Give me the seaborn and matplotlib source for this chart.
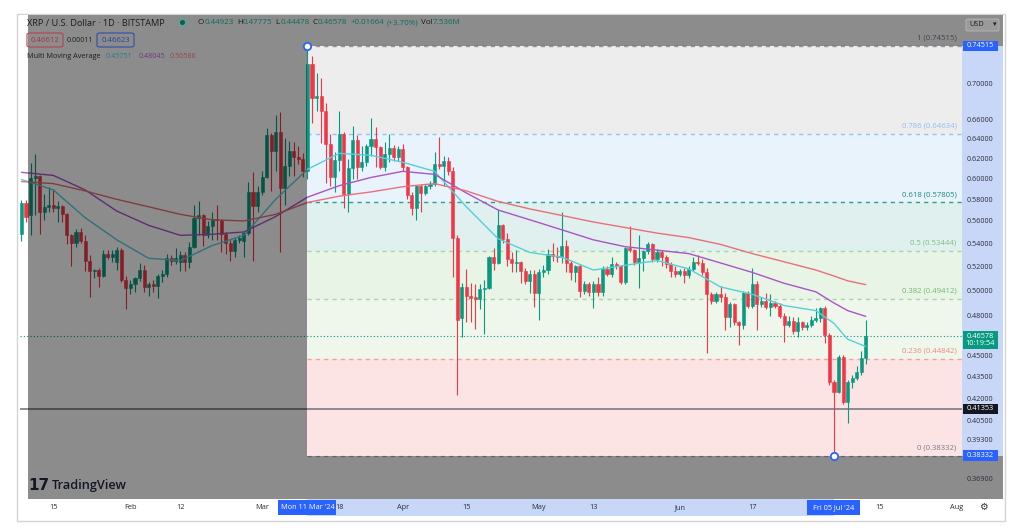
import matplotlib
matplotlib.use("Agg")
import numpy as np
import pandas as pd
import matplotlib.pyplot as plt
import matplotlib.dates as mdates
from matplotlib.patches import Rectangle, Ellipse, FancyBboxPatch
from matplotlib.ticker import NullLocator
import seaborn as sns

sns.set_theme(style="white")
plt.rcParams['font.family'] = ['Open Sans', 'DejaVu Sans']

# ---------------- data ----------------
start_date = "2024-01-08"
opens = [0.549, 0.578, 0.566, 0.601, 0.603, 0.569, 0.574, 0.576, 0.573, 0.575,
         0.567, 0.548, 0.541, 0.551, 0.543, 0.526, 0.517, 0.518, 0.513, 0.532,
         0.529, 0.525, 0.535, 0.510, 0.503, 0.506, 0.511, 0.518, 0.504, 0.506,
         0.505, 0.513, 0.515, 0.528, 0.526, 0.525, 0.531, 0.525, 0.538, 0.564,
         0.566, 0.548, 0.556, 0.563, 0.562, 0.549, 0.541, 0.534, 0.544, 0.543,
         0.550, 0.588, 0.575, 0.588, 0.602, 0.645, 0.628, 0.648, 0.592, 0.613,
         0.628, 0.622, 0.620, 0.608, 0.724, 0.685, 0.687, 0.670, 0.636, 0.602,
         0.619, 0.646, 0.586, 0.611, 0.640, 0.612, 0.617, 0.633, 0.641, 0.632,
         0.612, 0.625, 0.631, 0.622, 0.630, 0.612, 0.585, 0.573, 0.594, 0.587,
         0.594, 0.596, 0.615, 0.613, 0.618, 0.608, 0.546, 0.479, 0.504, 0.497,
         0.496, 0.494, 0.502, 0.503, 0.529, 0.524, 0.557, 0.545, 0.527, 0.524,
         0.525, 0.517, 0.509, 0.515, 0.499, 0.516, 0.518, 0.532, 0.530, 0.529,
         0.539, 0.524, 0.516, 0.521, 0.501, 0.506, 0.500, 0.506, 0.500, 0.519,
         0.515, 0.523, 0.521, 0.508, 0.537, 0.535, 0.525, 0.528, 0.534, 0.540,
         0.527, 0.533, 0.529, 0.523, 0.517, 0.515, 0.517, 0.514, 0.519, 0.525,
         0.524, 0.516, 0.498, 0.493, 0.498, 0.496, 0.480, 0.490, 0.476, 0.474,
         0.499, 0.489, 0.506, 0.490, 0.493, 0.488, 0.491, 0.489, 0.481, 0.474,
         0.477, 0.469, 0.476, 0.472, 0.474, 0.478, 0.479, 0.487, 0.466, 0.432,
         0.425, 0.450, 0.418, 0.432, 0.435, 0.439, 0.44923]
highs = [0.580, 0.580, 0.616, 0.625, 0.604, 0.586, 0.593, 0.591, 0.579, 0.576,
         0.568, 0.549, 0.554, 0.555, 0.548, 0.531, 0.519, 0.520, 0.535, 0.535,
         0.535, 0.538, 0.537, 0.513, 0.510, 0.512, 0.524, 0.522, 0.508, 0.510,
         0.515, 0.518, 0.532, 0.531, 0.537, 0.534, 0.533, 0.542, 0.576, 0.579,
         0.567, 0.561, 0.569, 0.576, 0.563, 0.551, 0.544, 0.546, 0.548, 0.551,
         0.598, 0.607, 0.594, 0.608, 0.652, 0.647, 0.666, 0.669, 0.642, 0.639,
         0.638, 0.633, 0.626, 0.74515, 0.733, 0.713, 0.707, 0.679, 0.646, 0.627,
         0.670, 0.648, 0.620, 0.654, 0.645, 0.633, 0.636, 0.663, 0.653, 0.634,
         0.638, 0.646, 0.635, 0.633, 0.636, 0.613, 0.588, 0.595, 0.596, 0.596,
         0.599, 0.627, 0.643, 0.623, 0.622, 0.612, 0.548, 0.507, 0.519, 0.507,
         0.506, 0.506, 0.510, 0.530, 0.537, 0.571, 0.558, 0.550, 0.533, 0.535,
         0.526, 0.520, 0.518, 0.518, 0.519, 0.522, 0.536, 0.541, 0.538, 0.569,
         0.544, 0.526, 0.522, 0.523, 0.509, 0.508, 0.509, 0.512, 0.521, 0.521,
         0.529, 0.525, 0.522, 0.538, 0.556, 0.536, 0.548, 0.535, 0.542, 0.541,
         0.536, 0.535, 0.531, 0.525, 0.521, 0.519, 0.520, 0.521, 0.529, 0.531,
         0.527, 0.520, 0.500, 0.500, 0.505, 0.499, 0.492, 0.491, 0.477, 0.501,
         0.501, 0.520, 0.509, 0.496, 0.499, 0.498, 0.493, 0.491, 0.483, 0.481,
         0.480, 0.480, 0.477, 0.476, 0.481, 0.487, 0.488, 0.489, 0.468, 0.433,
         0.451, 0.451, 0.433, 0.437, 0.443, 0.454, 0.47775]
lows = [0.543, 0.560, 0.548, 0.566, 0.549, 0.562, 0.569, 0.569, 0.560, 0.560,
        0.540, 0.521, 0.538, 0.541, 0.517, 0.496, 0.511, 0.504, 0.512, 0.527,
        0.525, 0.518, 0.508, 0.486, 0.498, 0.500, 0.509, 0.500, 0.497, 0.500,
        0.495, 0.508, 0.512, 0.522, 0.523, 0.517, 0.517, 0.520, 0.537, 0.548,
        0.539, 0.546, 0.544, 0.544, 0.533, 0.532, 0.526, 0.529, 0.541, 0.529,
        0.548, 0.526, 0.569, 0.585, 0.601, 0.589, 0.608, 0.533, 0.576, 0.603,
        0.603, 0.615, 0.602, 0.600, 0.658, 0.670, 0.637, 0.597, 0.594, 0.588,
        0.608, 0.573, 0.569, 0.600, 0.600, 0.608, 0.613, 0.623, 0.612, 0.610,
        0.608, 0.617, 0.618, 0.618, 0.608, 0.581, 0.566, 0.562, 0.569, 0.585,
        0.591, 0.594, 0.610, 0.594, 0.604, 0.512, 0.423, 0.465, 0.476, 0.476,
        0.471, 0.486, 0.467, 0.502, 0.518, 0.523, 0.541, 0.521, 0.516, 0.516,
        0.507, 0.506, 0.499, 0.488, 0.478, 0.512, 0.515, 0.526, 0.525, 0.524,
        0.516, 0.510, 0.508, 0.496, 0.498, 0.497, 0.487, 0.497, 0.497, 0.513,
        0.512, 0.519, 0.506, 0.506, 0.533, 0.522, 0.503, 0.517, 0.532, 0.525,
        0.525, 0.521, 0.520, 0.512, 0.512, 0.513, 0.507, 0.511, 0.517, 0.522,
        0.514, 0.453, 0.490, 0.491, 0.492, 0.470, 0.472, 0.474, 0.459, 0.471,
        0.487, 0.487, 0.470, 0.488, 0.486, 0.481, 0.487, 0.479, 0.461, 0.472,
        0.467, 0.465, 0.470, 0.470, 0.472, 0.476, 0.476, 0.460, 0.430, 0.38332,
        0.424, 0.417, 0.404, 0.428, 0.433, 0.437, 0.44478]
closes = [0.578, 0.565, 0.601, 0.603, 0.569, 0.574, 0.576, 0.573, 0.575, 0.567,
          0.548, 0.541, 0.551, 0.543, 0.526, 0.517, 0.518, 0.513, 0.532, 0.529,
          0.532, 0.535, 0.510, 0.503, 0.506, 0.511, 0.518, 0.504, 0.506, 0.505,
          0.513, 0.515, 0.528, 0.526, 0.528, 0.531, 0.525, 0.538, 0.564, 0.566,
          0.548, 0.556, 0.563, 0.562, 0.549, 0.541, 0.534, 0.544, 0.546, 0.550,
          0.588, 0.575, 0.588, 0.602, 0.645, 0.628, 0.648, 0.592, 0.613, 0.628,
          0.622, 0.620, 0.608, 0.724, 0.685, 0.687, 0.670, 0.636, 0.602, 0.619,
          0.646, 0.586, 0.611, 0.640, 0.612, 0.617, 0.633, 0.641, 0.632, 0.612,
          0.625, 0.631, 0.622, 0.630, 0.612, 0.585, 0.573, 0.594, 0.587, 0.594,
          0.596, 0.615, 0.613, 0.618, 0.608, 0.546, 0.478, 0.504, 0.497, 0.495,
          0.494, 0.502, 0.503, 0.529, 0.524, 0.557, 0.545, 0.527, 0.524, 0.525,
          0.517, 0.509, 0.515, 0.499, 0.516, 0.518, 0.532, 0.530, 0.529, 0.539,
          0.524, 0.516, 0.521, 0.501, 0.506, 0.500, 0.506, 0.500, 0.519, 0.515,
          0.523, 0.521, 0.508, 0.537, 0.535, 0.525, 0.528, 0.534, 0.540, 0.527,
          0.533, 0.529, 0.523, 0.517, 0.515, 0.517, 0.514, 0.519, 0.525, 0.524,
          0.516, 0.498, 0.493, 0.498, 0.496, 0.480, 0.490, 0.476, 0.474, 0.499,
          0.489, 0.506, 0.490, 0.493, 0.488, 0.491, 0.489, 0.481, 0.474, 0.477,
          0.469, 0.476, 0.472, 0.474, 0.478, 0.479, 0.487, 0.466, 0.432, 0.425,
          0.450, 0.418, 0.432, 0.435, 0.439, 0.449, 0.46578]

ma_dates = ["2024-01-08", "2024-01-15", "2024-01-22", "2024-01-29", "2024-02-05",
            "2024-02-12", "2024-02-19", "2024-02-26", "2024-03-04", "2024-03-11",
            "2024-03-18", "2024-03-25", "2024-04-01", "2024-04-08", "2024-04-15",
            "2024-04-22", "2024-04-29", "2024-05-06", "2024-05-13", "2024-05-20",
            "2024-05-27", "2024-06-03", "2024-06-10", "2024-06-17", "2024-06-24",
            "2024-07-01", "2024-07-05", "2024-07-08", "2024-07-12"]
ma_fast = [0.600, 0.590, 0.564, 0.544, 0.528, 0.526, 0.539, 0.548, 0.581, 0.610,
           0.626, 0.624, 0.617, 0.608, 0.574, 0.545, 0.533, 0.529, 0.518, 0.522,
           0.526, 0.519, 0.504, 0.498, 0.489, 0.485, 0.475, 0.463, 0.45751]
ma_mid = [0.607, 0.604, 0.590, 0.570, 0.557, 0.548, 0.549, 0.551, 0.565, 0.583,
          0.594, 0.602, 0.608, 0.605, 0.587, 0.571, 0.562, 0.553, 0.544, 0.538,
          0.535, 0.532, 0.524, 0.516, 0.507, 0.500, 0.491, 0.485, 0.48045]
ma_slow = [0.598, 0.596, 0.589, 0.581, 0.574, 0.567, 0.562, 0.561, 0.567, 0.578,
           0.584, 0.588, 0.593, 0.596, 0.589, 0.579, 0.572, 0.566, 0.560, 0.555,
           0.550, 0.546, 0.540, 0.532, 0.525, 0.518, 0.513, 0.509, 0.50586]

fib_start = "2024-03-11"
fib_end_anchor = "2024-07-05"
fib_ratios = ["1", "0.786", "0.618", "0.5", "0.382", "0.236", "0"]
fib_values = [0.74515, 0.64634, 0.57805, 0.53444, 0.49412, 0.44842, 0.38332]
fib_line_colors = ["#9598a1", "#90c4f2", "#2a9d8f", "#a5d6a7", "#a5d6a7", "#f4a09a", "#b2b5be"]
fib_label_colors = ["#787b86", "#8fc0ee", "#1f8a7b", "#7fc07f", "#70b870", "#f2897f", "#787b86"]
fib_fill_colors = ["#ededed", "#e9f3fc", "#dff0ee", "#e8f4e6", "#eff7ec", "#fde4e4"]

last_price = 0.46578
hline_price = 0.41353
price_ticks = [0.70, 0.66, 0.64, 0.62, 0.60, 0.58, 0.56, 0.54, 0.52, 0.50,
               0.48, 0.45, 0.435, 0.42, 0.405, 0.393, 0.369]
time_tick_dates = ["2024-01-15", "2024-02-01", "2024-02-12", "2024-03-01", "2024-03-18",
                   "2024-04-01", "2024-04-15", "2024-05-01", "2024-05-13", "2024-06-01",
                   "2024-06-17", "2024-07-15", "2024-08-01"]
time_tick_labels = ["15", "Feb", "12", "Mar", "18", "Apr", "15", "May", "13", "Jun",
                    "17", "15", "Aug"]

GREEN = "#089981"
RED = "#f23645"
BLUE = "#2962ff"

# ---------------- figure ----------------
W, H = 1024, 529
fig = plt.figure(figsize=(W / 100, H / 100), dpi=100, facecolor="white")


def fx(px):
    return px / W


def fy(py):
    return 1 - py / H


fig.add_artist(Rectangle((fx(17), fy(521)), fx(1005) - fx(17), fy(14) - fy(521),
                         transform=fig.transFigure, facecolor="white",
                         edgecolor="#d4d4d4", lw=1.0, zorder=0))

L, R, T, B = 20, 962, 15, 499
ax = fig.add_axes([fx(L), fy(B), fx(R) - fx(L), fy(T) - fy(B)])
ax_p = fig.add_axes([fx(R), fy(B), fx(1003) - fx(R), fy(T) - fy(B)])
ax_t = fig.add_axes([fx(L), fy(516), fx(R) - fx(L), fy(B) - fy(516)])

dates = pd.date_range(start_date, periods=len(closes), freq="D")
xd = mdates.date2num(dates)
o = np.array(opens); h = np.array(highs); l = np.array(lows); c = np.array(closes)
cols = np.where(c >= o, GREEN, RED)

xmin = xd[0] - 0.33
xmax = xd[0] + 207.2
ymin, ymax = 0.35722, 0.7836
x_fib0 = mdates.date2num(pd.Timestamp(fib_start))
x_fib1 = mdates.date2num(pd.Timestamp(fib_end_anchor))
frac0 = (x_fib0 - xmin) / (xmax - xmin)

# moving averages (seaborn)
ma_df = pd.DataFrame({"date": mdates.date2num(pd.to_datetime(ma_dates)),
                      "fast": ma_fast, "mid": ma_mid, "slow": ma_slow})
ma_long = ma_df.melt(id_vars="date", var_name="ma", value_name="value")
sns.lineplot(data=ma_long, x="date", y="value", hue="ma",
             palette={"fast": "#56cfdc", "mid": "#a955c6", "slow": "#e8707a"},
             linewidth=1.0, legend=False, ax=ax, zorder=4, estimator=None)

ax.set_yscale("log")
ax.set_xlim(xmin, xmax)
ax.set_ylim(ymin, ymax)

# fib zones
for i in range(6):
    ax.axhspan(fib_values[i + 1], fib_values[i], xmin=frac0, xmax=1,
               color=fib_fill_colors[i], lw=0, zorder=0)
for v, col in zip(fib_values, fib_line_colors):
    ax.hlines(v, x_fib0, xmax, colors=col, linestyles=(0, (3, 3)), lw=1.0, zorder=1)
for r, v, col in zip(fib_ratios, fib_values, fib_label_colors):
    ax.text((956.7 - L) / (R - L), v * 1.0126, f"{r} ({v:.5f})", transform=ax.get_yaxis_transform(),
            ha="right", va="center", fontsize=5.6, color=col, zorder=5)

# candles
ax.vlines(xd, l, h, colors=cols, lw=0.8, zorder=3)
ax.bar(xd, np.abs(c - o), bottom=np.minimum(o, c), width=0.68, color=cols,
       edgecolor=cols, lw=0.4, zorder=3)

ax.axhline(last_price, color=GREEN, ls=(0, (1, 2)), lw=0.8, zorder=2)
ax.axhline(hline_price, color="#7a7c84", lw=1.2, zorder=2)

# selection overlay (outside fib rectangle)
ov = dict(facecolor="black", alpha=0.45, lw=0, zorder=10)
ax.add_patch(Rectangle((8 / (R - L), 0), frac0 - 8 / (R - L), 1, transform=ax.transAxes, **ov))
ax.add_patch(Rectangle((frac0, fib_values[0]), 1 - frac0, ymax - fib_values[0],
                       transform=ax.get_yaxis_transform(), **ov))
ax.add_patch(Rectangle((frac0, ymin), 1 - frac0, fib_values[-1] - ymin,
                       transform=ax.get_yaxis_transform(), **ov))

# anchor circles
ax.scatter([x_fib0, x_fib1], [fib_values[0], fib_values[-1]], s=28, facecolor="white",
           edgecolor=BLUE, lw=1.3, zorder=12, clip_on=False)

for a in (ax, ax_p, ax_t):
    for s in a.spines.values():
        s.set_visible(False)
    a.tick_params(which="both", left=False, bottom=False, right=False, top=False,
                  labelleft=False, labelbottom=False)
    a.set_xlabel("")
    a.set_ylabel("")
ax.yaxis.set_minor_locator(NullLocator())

# ---------------- price axis ----------------
ax_p.set_yscale("log")
ax_p.set_ylim(ymin, ymax)
ax_p.set_xlim(0, 1)
ax_p.yaxis.set_minor_locator(NullLocator())
ax_p.set_facecolor("white")
ax_p.axhspan(fib_values[-1], fib_values[0], color="#c8d7f7", lw=0, zorder=0)
ax_p.axhspan(fib_values[0], ymax, color="#8c8c8c", lw=0, zorder=0)
ax_p.axhspan(ymin, fib_values[-1], color="#8c8c8c", lw=0, zorder=0)
for v in price_ticks:
    ax_p.text(0.44, v, f"{v:.5f}", ha="center", va="center", fontsize=5.2,
              color="#2a2e39", zorder=2)


def price_box(value, text, fc, h_px=10.5, dy=0.0, tc="white"):
    y = ax_p.transData.transform((0, value))[1]
    fig.add_artist(Rectangle((fx(962.5), (y - h_px / 2 + dy) / H), fx(35.5), h_px / H,
                             transform=fig.transFigure, facecolor=fc, edgecolor="none", zorder=20))
    fig.text(fx(980), (y + dy) / H, text, ha="center", va="center", fontsize=5.3,
             color=tc, zorder=21, linespacing=1.05)


fig.canvas.draw()
renderer = fig.canvas.get_renderer()
price_box(fib_values[0], f"{fib_values[0]:.5f}", BLUE)
price_box(last_price, f"{last_price:.5f}\n10:19:54", GREEN, h_px=17.5, dy=-4.5)
price_box(hline_price, f"{hline_price:.5f}", "#131722")
price_box(fib_values[-1], f"{fib_values[-1]:.5f}", BLUE)

fig.add_artist(FancyBboxPatch((fx(966), fy(31)), fx(33), 12 / H,
                              boxstyle="round,pad=0,rounding_size=0.002",
                              transform=fig.transFigure, facecolor="#9a9a9a",
                              edgecolor="#b8b8b8", lw=0.6, zorder=20))
fig.text(fx(969), fy(24.5), "USD", ha="left", va="center", fontsize=5.3, color="#1e1e1e", zorder=21)
fig.text(fx(995), fy(24.5), "▾", ha="center", va="center", fontsize=5, color="#1e1e1e", zorder=21)

# ---------------- time axis ----------------
ax_t.set_xlim(xmin, xmax)
ax_t.set_ylim(0, 1)
ax_t.set_facecolor("white")
ax_t.axvspan(x_fib0, x_fib1, color="#c8d7f7", lw=0, zorder=0)
for d, lab in zip(time_tick_dates, time_tick_labels):
    ax_t.text(mdates.date2num(pd.Timestamp(d)), 0.5, lab, ha="center", va="center",
              fontsize=5.3, color="#2a2e39", zorder=2)
px_day = (R - L) / (xmax - xmin)
for xc, lab, wpx in [(x_fib0, "Mon 11 Mar '24", 58), (x_fib1, "Fri 05 Jul '24", 53)]:
    ax_t.add_patch(Rectangle((xc - wpx / 2 / px_day, 0.08), wpx / px_day, 0.84,
                             facecolor=BLUE, lw=0, zorder=3))
    ax_t.text(xc, 0.5, lab, ha="center", va="center", fontsize=5.3, color="white", zorder=4)
fig.text(fx(983), fy(507.5), "⚙", ha="center", va="center", fontsize=7, color="#333333")


# ---------------- legend texts ----------------
def seq_text(x0, y, parts, size):
    x = x0
    for s, col, gap in parts:
        t = fig.text(fx(x), fy(y), s, ha="left", va="center", fontsize=size, color=col, zorder=30)
        bb = t.get_window_extent(renderer=renderer)
        x += bb.width + gap
    return x


DK = "#1c1c1c"
GV = "#0a6e5e"
fig.text(fx(27), fy(23), "XRP / U.S. Dollar · 1D · BITSTAMP", ha="left", va="center",
         fontsize=6.6, color=DK, zorder=30)
fig.add_artist(Ellipse((fx(182.5), fy(22.5)), fx(11), 11 / H, transform=fig.transFigure,
                       facecolor="#6f9a92", edgecolor="none", alpha=0.8, zorder=30))
fig.add_artist(Ellipse((fx(182.5), fy(22.5)), fx(5), 5 / H, transform=fig.transFigure,
                       facecolor="#0a5f51", edgecolor="none", zorder=31))
seq_text(198, 23, [("O", DK, 0.3), ("0.44923", GV, 3), ("H", DK, 0.3), ("0.47775", GV, 3),
                   ("L", DK, 0.3), ("0.44478", GV, 3), ("C", DK, 0.3), ("0.46578", GV, 3),
                   ("+0.01664", GV, 2.5), ("(+3.70%)", GV, 3), ("Vol", DK, 0.3),
                   ("7.536M", GV, 0)], 5.8)

fig.add_artist(FancyBboxPatch((fx(27), fy(47)), fx(36), 14 / H, boxstyle="round,pad=0,rounding_size=0.003",
                              transform=fig.transFigure, facecolor="none", edgecolor="#b8434c",
                              lw=0.8, zorder=30))
fig.text(fx(45), fy(40), "0.46612", ha="center", va="center", fontsize=5.6, color="#a8343e", zorder=31)
fig.text(fx(80), fy(40), "0.00011", ha="center", va="center", fontsize=5.0, color=DK, zorder=31)
fig.add_artist(FancyBboxPatch((fx(97), fy(47)), fx(37), 14 / H, boxstyle="round,pad=0,rounding_size=0.003",
                              transform=fig.transFigure, facecolor="none", edgecolor="#2d4fa8",
                              lw=0.8, zorder=30))
fig.text(fx(115.5), fy(40), "0.46623", ha="center", va="center", fontsize=5.6, color="#23449c", zorder=31)

seq_text(27, 57, [("Multi Moving Average", DK, 5), ("0.45751", "#1f8087", 6),
                  ("0.48045", "#6f3a82", 5), ("0.50586", "#9a4348", 0)], 5.2)

# watermark
fig.text(fx(28), fy(486), "17", ha="left", va="center", fontsize=11, weight="heavy",
         color="#131722", zorder=30, family=["DejaVu Sans"])
fig.text(fx(52), fy(486), "TradingView", ha="left", va="center", fontsize=9.2,
         weight="semibold", color="#131722", zorder=30)

fig.savefig("out.png", dpi=100, facecolor="white")
